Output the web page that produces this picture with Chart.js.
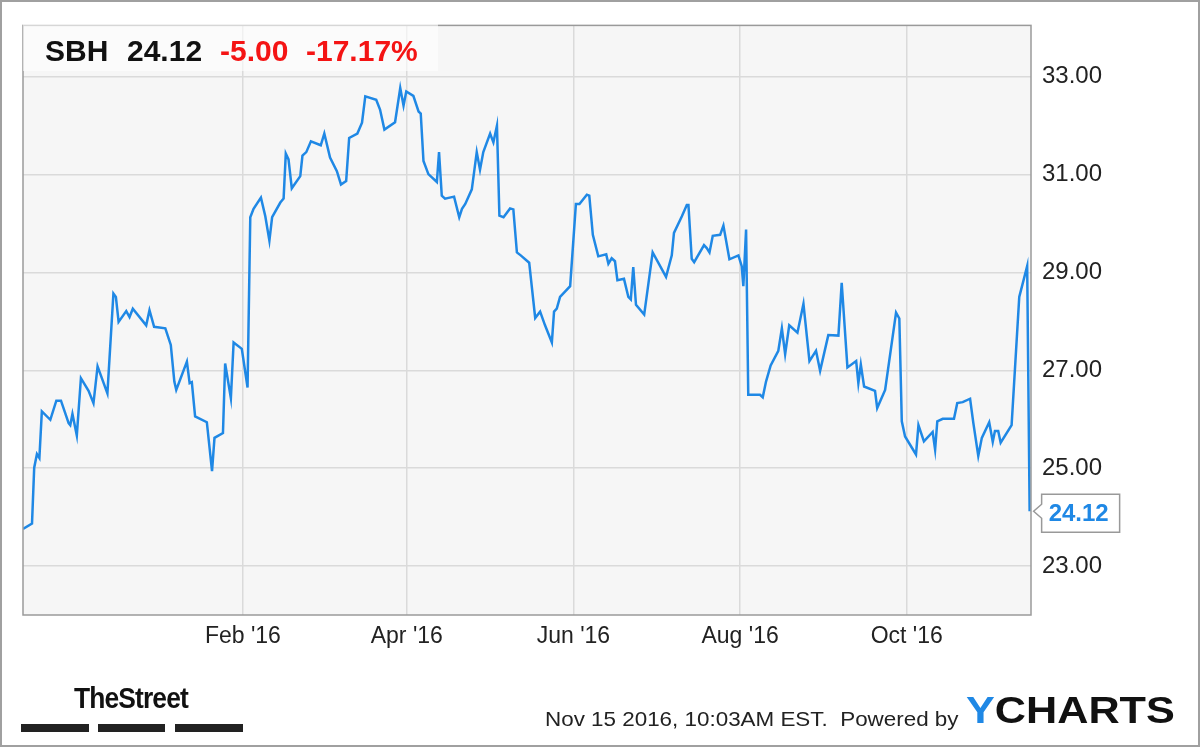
<!DOCTYPE html>
<html>
<head>
<meta charset="utf-8">
<script src="https://cdn.jsdelivr.net/npm/chart.js@4.4.1/dist/chart.umd.min.js"></script>
<style>
  body { margin: 0; background: #fff; font-family: "Liberation Sans", Arial, sans-serif; }
  #wrap { position: relative; width: 1200px; height: 747px; overflow: hidden; background: #fff; }
  #frame { position: absolute; left: 0; top: 0; width: 1200px; height: 747px; box-sizing: border-box; border: 2px solid #a0a0a0; pointer-events: none; }
  #head { position: absolute; left: 23px; top: 23px; width: 415px; height: 48px; background: rgba(255,255,255,0.6); }
  .h { position: absolute; top: 13px; font-weight: bold; font-size: 30px; line-height: 30px; white-space: nowrap; color: #111; }
  .red { color: #f41414; }
  #street { position: absolute; left: 74px; top: 683px; font-weight: bold; font-size: 30px; line-height: 30px; letter-spacing: -1px; transform: scaleX(0.88); transform-origin: left top; color: #111; white-space: nowrap; }
  .bar { position: absolute; top: 724px; height: 8px; background: #222; }
  #stamp { position: absolute; left: 545px; top: 708px; font-size: 21px; line-height: 21px; color: #222; white-space: pre; transform: scaleX(1.067); transform-origin: left top; }
  #ycharts { position: absolute; left: 966px; top: 693px; font-weight: bold; font-size: 36px; line-height: 36px; transform: scaleX(1.2); transform-origin: left top; color: #111; white-space: nowrap; }
  #ycharts span { color: #1f88e5; }
</style>
</head>
<body>
<div id="wrap">
  <canvas id="chart" width="1200" height="747"></canvas>
  <div id="head">
    <span class="h" style="left:22px">SBH</span>
    <span class="h" style="left:104px">24.12</span>
    <span class="h red" style="left:197px">-5.00</span>
    <span class="h red" style="left:283px">-17.17%</span>
  </div>
  <div id="street">TheStreet</div>
  <div class="bar" style="left:21px;width:68px"></div>
  <div class="bar" style="left:98px;width:67px"></div>
  <div class="bar" style="left:175px;width:68px"></div>
  <div id="stamp">Nov 15 2016, 10:03AM EST.  Powered by</div>
  <div id="ycharts"><span>Y</span>CHARTS</div>
  <div id="frame"></div>
</div>
<script>
// x values are days counted from 2015-11-13
const days = [
  -0.5, 2.8, 3.6, 4.6, 5.5, 6.4, 9.5, 11.7, 13.4, 16.2, 16.8, 17.6, 19.2, 20.7, 23.5, 25.3, 26.8, 30.4, 32.6, 33.5,
  34.5, 37.3, 38.5, 39.7, 44.6, 45.8, 47.5, 51.6, 53.6, 54.9, 55.6, 59.5, 60.5, 61.3, 62.5, 66.8, 68.7, 69.6, 72.7, 73.5,
  75.6, 76.6, 79.6, 81.7, 82.7, 83.9, 86.6, 88.2, 89.7, 90.7, 93.7, 94.9, 95.7, 96.7, 97.9, 101.0, 101.8, 103.2, 104.9, 108.5,
  109.8, 111.9, 114.4, 115.9, 117.8, 118.9, 121.9, 123.6, 124.8, 128.8, 130.2, 131.8, 135.7, 137.6, 138.8, 139.8, 142.4, 144.3, 145.1, 146.1,
  147.9, 151.0, 151.8, 152.8, 154.0, 157.3, 159.2, 160.2, 161.4, 163.8, 165.6, 166.8, 168.0, 170.5, 171.7, 173.0, 173.9, 175.4, 177.8, 179.0,
  180.3, 181.7, 184.8, 187.0, 188.8, 190.6, 193.1, 193.9, 194.9, 196.1, 199.8, 201.9, 203.2, 205.9, 206.8, 208.1, 210.1, 213.0, 213.8, 215.0,
  216.2, 217.1, 219.5, 221.1, 222.0, 222.9, 223.9, 226.9, 230.0, 234.9, 237.0, 237.8, 240.7, 242.5, 243.1, 244.3, 245.2, 248.8, 249.8, 250.8,
  252.0, 254.7, 255.9, 258.1, 261.4, 262.6, 263.2, 264.2, 265.0, 269.3, 270.3, 271.5, 273.2, 276.0, 277.3, 278.5, 280.0, 283.0, 285.2, 287.4,
  289.8, 291.3, 294.3, 298.0, 299.2, 301.3, 304.5, 305.3, 306.2, 307.4, 311.4, 312.2, 315.1, 319.1, 320.3, 321.2, 322.4, 326.4, 327.3, 329.3,
  332.5, 333.4, 334.2, 336.2, 340.3, 341.5, 343.5, 346.2, 347.4, 349.2, 350.5, 353.2, 354.5, 355.3, 356.5, 357.4, 361.4, 364.2, 367.1, 368.0
];
const prices = [
  23.76, 23.87, 25.01, 25.29, 25.21, 26.16, 25.99, 26.38, 26.38, 25.92, 25.88, 26.11, 25.67, 26.84, 26.58, 26.33, 27.08, 26.53, 28.57, 28.50,
  27.99, 28.21, 28.09, 28.26, 27.92, 28.23, 27.89, 27.86, 27.52, 26.77, 26.60, 27.18, 26.74, 26.76, 26.06, 25.94, 24.94, 25.62, 25.72, 27.14,
  26.43, 27.57, 27.44, 26.65, 30.13, 30.30, 30.53, 30.15, 29.65, 30.13, 30.43, 30.51, 31.43, 31.31, 30.72, 30.97, 31.39, 31.46, 31.68, 31.60,
  31.84, 31.35, 31.07, 30.80, 30.87, 31.75, 31.84, 32.06, 32.60, 32.53, 32.33, 31.92, 32.07, 32.77, 32.41, 32.70, 32.61, 32.29, 32.25, 31.28,
  31.01, 30.85, 31.46, 30.57, 30.51, 30.55, 30.13, 30.30, 30.40, 30.70, 31.46, 31.10, 31.46, 31.84, 31.66, 32.00, 30.16, 30.13, 30.31, 30.29,
  29.41, 29.35, 29.20, 28.07, 28.20, 27.92, 27.57, 28.20, 28.26, 28.50, 28.72, 30.40, 30.40, 30.59, 30.57, 29.77, 29.33, 29.37, 29.18, 29.29,
  29.23, 28.84, 28.87, 28.50, 28.45, 29.11, 28.34, 28.14, 29.41, 28.91, 29.35, 29.81, 30.15, 30.38, 30.38, 29.28, 29.21, 29.56, 29.50, 29.41,
  29.75, 29.77, 29.96, 29.27, 29.35, 29.13, 28.72, 29.88, 26.50, 26.50, 26.45, 26.77, 27.10, 27.40, 27.86, 27.33, 27.92, 27.77, 28.36, 27.19,
  27.40, 26.99, 27.72, 27.71, 28.79, 27.06, 27.19, 26.74, 27.12, 26.67, 26.58, 26.23, 26.60, 28.18, 28.06, 25.96, 25.65, 25.28, 25.88, 25.55,
  25.74, 25.38, 25.96, 26.01, 26.01, 26.33, 26.35, 26.42, 25.92, 25.25, 25.62, 25.94, 25.54, 25.76, 25.76, 25.52, 25.88, 28.50, 29.13, 24.12
];

// month ticks: Feb 1, Apr 1, Jun 1, Aug 1, Oct 1 2016 as day offsets
const tickDays = [80, 140, 201, 262, 323];
const tickLabels = ["Feb '16", "Apr '16", "Jun '16", "Aug '16", "Oct '16"];
const priceTicks = [23, 25, 27, 29, 31, 33];

const lineColor = '#1f88e5';
const gridColor = '#dadada';

// plot background, frame and the last-price callout
const plotDecor = {
  id: 'plotDecor',
  beforeDraw(chart) {
    const { ctx, chartArea: a } = chart;
    ctx.save();
    ctx.fillStyle = '#f6f6f6';
    ctx.fillRect(a.left, a.top, a.right - a.left, a.bottom - a.top);
    ctx.restore();
  },
  afterDraw(chart) {
    const { ctx, chartArea: a } = chart;
    ctx.save();
    ctx.strokeStyle = '#9a9a9a';
    ctx.lineWidth = 1.5;
    ctx.strokeRect(a.left, a.top, a.right - a.left, a.bottom - a.top);

    const meta = chart.getDatasetMeta(0);
    const pt = meta.data[meta.data.length - 1];
    const x = pt.x, y = pt.y;
    const bx = x + 12, by = y - 17, w = 78, h = 38;
    ctx.beginPath();
    ctx.moveTo(bx, by);
    ctx.lineTo(bx + w, by);
    ctx.lineTo(bx + w, by + h);
    ctx.lineTo(bx, by + h);
    ctx.lineTo(bx, y + 7);
    ctx.lineTo(x + 4, y);
    ctx.lineTo(bx, y - 7);
    ctx.closePath();
    ctx.fillStyle = '#fff';
    ctx.fill();
    ctx.strokeStyle = '#999';
    ctx.lineWidth = 1.5;
    ctx.stroke();
    ctx.fillStyle = lineColor;
    ctx.font = 'bold 24px "Liberation Sans", Arial, sans-serif';
    ctx.textBaseline = 'alphabetic';
    ctx.fillText(prices[prices.length - 1].toFixed(2), bx + 7, y + 10);
    ctx.restore();
  }
};

new Chart(document.getElementById('chart'), {
  type: 'line',
  data: {
    datasets: [{
      data: days.map((d, i) => ({ x: d, y: prices[i] })),
      borderColor: lineColor,
      borderWidth: 2.5,
      pointRadius: 0,
      tension: 0,
      fill: false
    }]
  },
  options: {
    responsive: false,
    animation: false,
    devicePixelRatio: 1,
    layout: { padding: { left: 23, top: 22, right: 0, bottom: 0 } },
    plugins: { legend: { display: false }, tooltip: { enabled: false } },
    scales: {
      x: {
        type: 'linear',
        min: -0.5,
        max: 368.5,
        afterBuildTicks: s => { s.ticks = tickDays.map(v => ({ value: v })); },
        afterFit: s => { s.height = 132; },
        ticks: {
          autoSkip: false,
          maxRotation: 0,
          padding: 8,
          color: '#222',
          font: { family: '"Liberation Sans", Arial, sans-serif', size: 23 },
          callback: (v, i) => tickLabels[i]
        },
        grid: { color: gridColor, lineWidth: 1.5, drawTicks: false },
        border: { display: false }
      },
      y: {
        position: 'right',
        min: 22,
        max: 34.05,
        afterBuildTicks: s => { s.ticks = priceTicks.map(v => ({ value: v })); },
        afterFit: s => { s.width = 169; },
        ticks: {
          padding: 11,
          color: '#222',
          font: { family: '"Liberation Sans", Arial, sans-serif', size: 24 },
          callback: v => Number(v).toFixed(2)
        },
        grid: { color: gridColor, lineWidth: 1.5, drawTicks: false },
        border: { display: false }
      }
    }
  },
  plugins: [plotDecor]
});
</script>
</body>
</html>
